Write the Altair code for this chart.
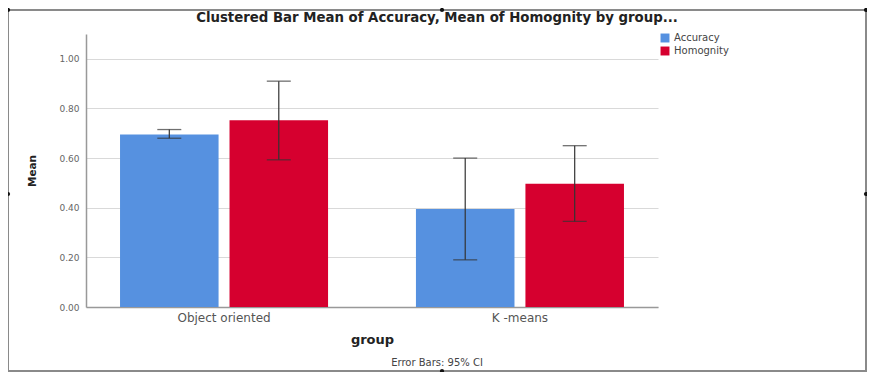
import altair as alt
import pandas as pd

groups = ["Object oriented", "K -means"]
measures = ["Accuracy", "Homognity"]
accuracy_mean = [0.695, 0.395]
accuracy_lo = [0.68, 0.19]
accuracy_hi = [0.715, 0.60]
homog_mean = [0.752, 0.497]
homog_lo = [0.593, 0.345]
homog_hi = [0.91, 0.65]
y_ticks = [0.0, 0.2, 0.4, 0.6, 0.8, 1.0]
title_text = "Clustered Bar Mean of Accuracy, Mean of Homognity by group..."
footer_text = "Error Bars: 95% CI"

rows = []
for i, g in enumerate(groups):
    rows.append({"group": g, "measure": "Accuracy", "mean": accuracy_mean[i],
                 "lo": accuracy_lo[i], "hi": accuracy_hi[i]})
    rows.append({"group": g, "measure": "Homognity", "mean": homog_mean[i],
                 "lo": homog_lo[i], "hi": homog_hi[i]})
df = pd.DataFrame(rows)

FONT = "DejaVu Sans"

x = alt.X("group:N", sort=groups, title="group",
          scale=alt.Scale(paddingInner=0.297, paddingOuter=0.115),
          axis=alt.Axis(labelAngle=0, labelFontSize=12, labelColor="#555555",
                        labelFont=FONT, titleFont=FONT, titleFontSize=13,
                        titleFontWeight="bold", titleColor="#222222",
                        titlePadding=10, ticks=False, labelPadding=5,
                        domainColor="#999999", domainWidth=1.5))
xoff = alt.XOffset("measure:N", sort=measures,
                   scale=alt.Scale(paddingInner=0.1, paddingOuter=0))
y_scale = alt.Scale(domain=[0, 1.1], nice=False)

bars = alt.Chart(df).mark_bar().encode(
    x=x,
    xOffset=xoff,
    y=alt.Y("mean:Q", scale=y_scale, title="Mean",
            axis=alt.Axis(values=y_ticks, format=".2f", labelFontSize=9,
                          labelColor="#666666", labelFont=FONT, titleFont=FONT,
                          titleFontSize=10.5, titleFontWeight="bold",
                          titleColor="#222222", titleX=-49, ticks=False,
                          labelPadding=7, gridColor="#d9d9d9", gridWidth=1,
                          domainColor="#999999", domainWidth=1.5)),
    color=alt.Color("measure:N", sort=measures,
                    scale=alt.Scale(domain=measures, range=["#5691e0", "#d6002f"]),
                    legend=alt.Legend(title=None, orient="none", legendX=574,
                                      legendY=-1, symbolType="square",
                                      symbolSize=80, symbolStrokeWidth=0,
                                      labelFontSize=10, labelColor="#444444",
                                      labelFont=FONT, rowPadding=3,
                                      symbolOpacity=1, labelOffset=4)),
)

rules = alt.Chart(df).mark_rule(color="#333333", strokeWidth=1.2).encode(
    x=alt.X("group:N", sort=groups), xOffset=xoff,
    y=alt.Y("lo:Q", scale=y_scale), y2="hi:Q")

caps_lo = alt.Chart(df).mark_tick(color="#333333", thickness=1.3, size=24,
                                  orient="horizontal").encode(
    x=alt.X("group:N", sort=groups), xOffset=xoff,
    y=alt.Y("lo:Q", scale=y_scale))
caps_hi = alt.Chart(df).mark_tick(color="#333333", thickness=1.3, size=24,
                                  orient="horizontal").encode(
    x=alt.X("group:N", sort=groups), xOffset=xoff,
    y=alt.Y("hi:Q", scale=y_scale))

texts = pd.DataFrame({"t": [footer_text]})
footer = alt.Chart(texts).mark_text(
    font=FONT, fontSize=10, color="#444444", align="center", baseline="middle"
).encode(text="t:N", x=alt.value(351), y=alt.value(329))

title_df = pd.DataFrame({"t": [title_text]})
title = alt.Chart(title_df).mark_text(
    font=FONT, fontSize=13.3, fontWeight="bold", color="#222222",
    align="center", baseline="middle"
).encode(text="t:N", x=alt.value(351), y=alt.value(-16))

one = pd.DataFrame({"a": [0]})
frame = alt.Chart(one).mark_rect(
    fill=None, stroke="#8a8a8a", strokeWidth=2
).encode(x=alt.value(-78), x2=alt.value(780), y=alt.value(-24), y2=alt.value(337))

handle_pos = [(-78, -24), (356, -24), (780, -24), (-78, 160), (780, 160), (356, 337)]
handles = [
    alt.Chart(one).mark_point(filled=True, color="#111111", size=18, opacity=1)
    .encode(x=alt.value(hx), y=alt.value(hy))
    for hx, hy in handle_pos
]

chart = alt.layer(frame, *handles, bars, rules, caps_lo, caps_hi, footer, title).properties(
    width=572, height=273,
    autosize=alt.AutoSizeParams(type="none"),
    padding={"left": 78, "top": 26, "right": 209, "bottom": 65},
).configure_view(stroke=None).configure_axisX(grid=False)

chart.save("out.html", embed_options={"renderer": "svg", "actions": False})
